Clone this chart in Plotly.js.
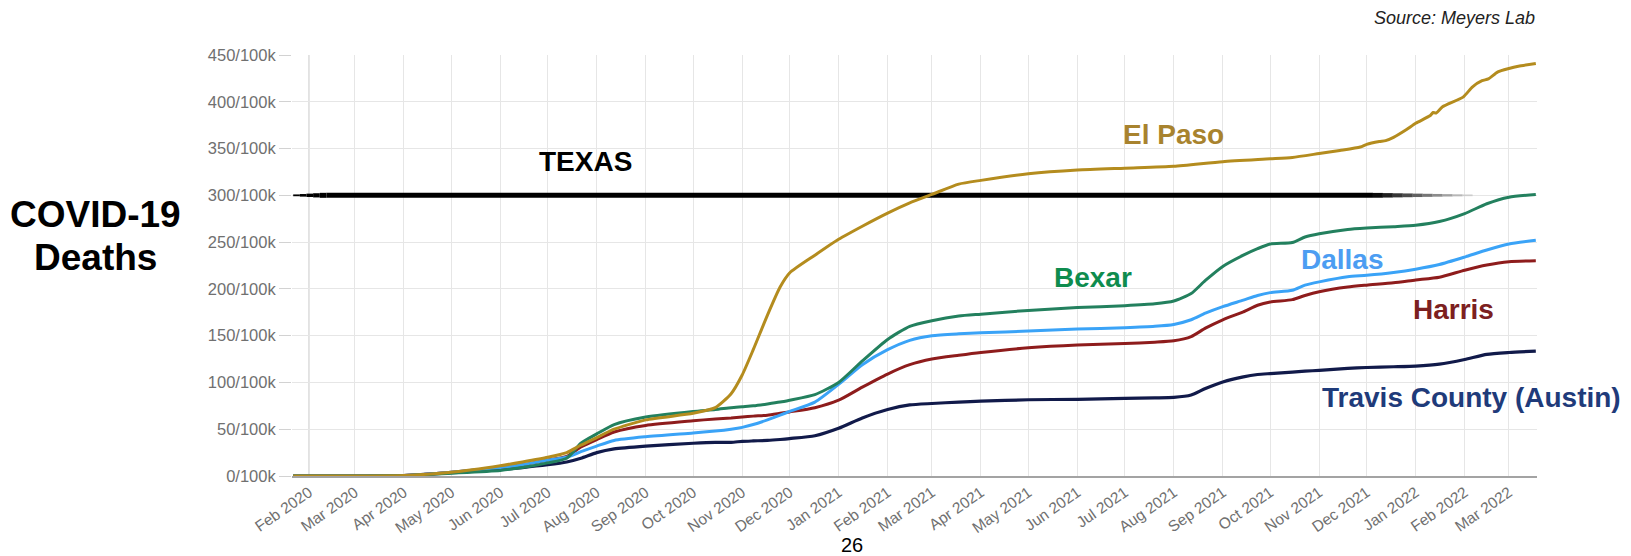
<!DOCTYPE html>
<html>
<head>
<meta charset="utf-8">
<script src="https://cdn.plot.ly/plotly-3.0.1.min.js"></script>
<style>
  html, body { margin: 0; padding: 0; background: #ffffff; }
  #chart { width: 1631px; height: 556px; }
</style>
</head>
<body>
<div id="chart"></div>
<script>
// ---------------- DATA ----------------
const dates = [
  '2020-01-22','2020-03-01','2020-04-01','2020-05-01','2020-06-01','2020-06-15','2020-07-01','2020-07-13',
  '2020-07-22','2020-08-01','2020-08-12','2020-09-01','2020-10-01','2020-10-15','2020-10-25','2020-11-01',
  '2020-11-08','2020-11-17','2020-11-25','2020-12-01','2020-12-17','2021-01-01','2021-01-16','2021-02-01',
  '2021-02-15','2021-03-01','2021-03-18','2021-04-01','2021-05-01','2021-06-01','2021-07-01','2021-07-20',
  '2021-08-01','2021-08-12','2021-08-21','2021-09-01','2021-09-14','2021-09-23','2021-10-01','2021-10-15',
  '2021-10-23','2021-11-01','2021-11-19','2021-12-01','2021-12-18','2022-01-01','2022-01-16','2022-02-01',
  '2022-02-15','2022-03-01','2022-03-18'
];
const bexar = [
  0,0,0.5,3,6,9,14,19,
  35,45,55,63,69,71,73,74,
  75,77,79,81,87,100,123,146,
  160,166,171,173,177,180,182,184,
  187,195,209,224,236,243,248,249.5,
  255.5,259,263.5,265,266.5,268,272,280.5,
  291,298,301
];
const dallas = [
  0,0,0.5,4,9,12,17,20,
  26,32,38,42,46,48,50,52,
  55,60,65,69,79,98,119,135,
  145,150,152,153,155,157,158.5,160,
  162,167,174,181,188,193,196,198.5,
  204,207.5,213,214.5,217.5,221,226,234,
  241.5,248,252
];
const harris = [
  0,0,0.5,4,9,12,17,21,
  31,39,47,54,59,61,62,63,
  64,65,67,68.5,73,81,95,109,
  119,125,129,132,137,140,141.5,143,
  144.5,149,158,167,175.5,182.5,186,188.5,
  193,197,202,204,206.5,209.5,212.5,220,
  225.5,229,230
];
const travis = [
  0,0,0.5,3.5,7,9,12,15,
  19,25,29,32,35,36,36,37,
  37.5,38,39,40,43,51,62,71,
  76,77.5,79,80,81.5,82,83,83.5,
  84,86.5,93.5,100.5,106,108.5,109.5,111,
  112,113,115,116,116.8,117.5,119.5,124.5,
  130,132,133.5
];
const elPasoDates = [
  '2020-01-22','2020-03-01','2020-04-01','2020-05-01','2020-06-01','2020-06-15','2020-07-01','2020-07-13',
  '2020-07-22','2020-08-01','2020-08-12','2020-09-01','2020-10-01','2020-10-15','2020-10-25','2020-11-01',
  '2020-11-08','2020-11-17','2020-11-25','2020-12-01','2020-12-17','2021-01-01','2021-01-16','2021-02-01',
  '2021-02-15','2021-03-01','2021-03-18','2021-04-01','2021-05-01','2021-06-01','2021-07-01','2021-08-01',
  '2021-09-01','2021-10-01','2021-10-15','2021-11-01','2021-11-14','2021-11-27','2021-12-01','2021-12-09',
  '2021-12-13','2021-12-18','2021-12-26','2022-01-01','2022-01-10','2022-01-12','2022-01-14','2022-01-18',
  '2022-01-31','2022-02-06','2022-02-12','2022-02-16','2022-02-22','2022-03-01','2022-03-07','2022-03-18'
];
const elPaso = [
  0,0,0.5,4,11,15,20,25,
  33,41,50,60,67,73,88,108,
  135,172,202,217,236,253,267,281,
  292,301,312,316,323,327,329,331,
  336,339,340.5,344.7,348,351.7,354.5,357.5,
  358.5,362,370,377,385,388.5,388,394.6,
  405,416,422.5,424.5,432,435.6,438,441
];
const texasDates = ['2020-01-22','2020-02-12','2021-12-05','2022-02-06'];
const texasValues = [300, 300, 300, 300];

const monthTickFormat = '%b %Y';
const yTickSuffix = '/100k';

// ---------------- STYLE ----------------
const FONT = 'Liberation Sans, Arial, Helvetica, sans-serif';
const colors = {
  elPaso: '#B48C1E', bexar: '#23805E', dallas: '#3AA3F7', harris: '#8E1C1C', travis: '#111A4A'
};
const labelColors = {
  elPaso: '#A8832E', bexar: '#0E8C4E', dallas: '#4C9DF2', harris: '#7C2020', travis: '#1F3B7A'
};

function lineTrace(x, y, color, width) {
  return {
    type: 'scatter', mode: 'lines', x: x, y: y,
    line: { color: color, width: width, shape: 'spline', smoothing: 0.6 },
    hoverinfo: 'skip', showlegend: false
  };
}

// Texas reference line: tapered in at the left, solid, fading out at the right
function texasTraces() {
  const t = texasDates.map(d => new Date(d + 'T00:00:00Z').getTime());
  const iso = ms => new Date(ms).toISOString().slice(0, 19).replace('T', ' ');
  const out = [];
  const seg = (a, b, ya, yb, color, width) => out.push({
    type: 'scatter', mode: 'lines', x: [iso(a), iso(b)], y: [ya, yb],
    line: { color: color, width: width }, hoverinfo: 'skip', showlegend: false
  });
  const nIn = 5;
  for (let i = 0; i < nIn; i++) {
    const a = t[0] + (t[1] - t[0]) * i / nIn, b = t[0] + (t[1] - t[0]) * (i + 1) / nIn;
    seg(a, b, texasValues[0], texasValues[1], '#000', 1 + 4 * (i + 1) / nIn);
  }
  seg(t[1], t[2], texasValues[1], texasValues[2], '#000', 5);
  const nOut = 10;
  for (let i = 0; i < nOut; i++) {
    const a = t[2] + (t[3] - t[2]) * i / nOut, b = t[2] + (t[3] - t[2]) * (i + 1) / nOut;
    const f = (i + 0.5) / nOut;
    const g = Math.round(215 * f);
    seg(a, b, texasValues[2], texasValues[3], `rgb(${g},${g},${g})`, 5 - 3.5 * f);
  }
  return out;
}

const traces = [
  ...texasTraces(),
  lineTrace(dates, travis, colors.travis, 3.2),
  lineTrace(dates, harris, colors.harris, 3),
  lineTrace(dates, dallas, colors.dallas, 3),
  lineTrace(dates, bexar, colors.bexar, 3),
  lineTrace(elPasoDates, elPaso, colors.elPaso, 3)
];

function label(text, x, y, color, size) {
  return {
    text: '<b>' + text + '</b>', x: x, y: y, xref: 'x', yref: 'y',
    showarrow: false, xanchor: 'center', yanchor: 'middle',
    font: { family: FONT, size: size || 28, color: color }
  };
}

const layout = {
  width: 1631, height: 556,
  margin: { l: 292, r: 94, t: 55, b: 80 },
  paper_bgcolor: '#ffffff', plot_bgcolor: '#ffffff',
  showlegend: false,
  font: { family: FONT },
  xaxis: {
    type: 'date',
    range: ['2020-01-21 06:00', '2022-03-18 18:00'],
    dtick: 'M1', tick0: '2020-02-01',
    tickformat: monthTickFormat,
    tickangle: -35,
    ticks: '',
    tickfont: { family: FONT, size: 15.5, color: '#707070' },
    showgrid: true, gridcolor: '#e6e6e6', gridwidth: 1,
    showline: true, linecolor: '#a3a3a3', linewidth: 1.5,
    zeroline: false, fixedrange: true
  },
  yaxis: {
    range: [0, 450], dtick: 50, tick0: 0,
    ticksuffix: yTickSuffix,
    ticks: 'outside', ticklen: 12, tickcolor: '#d2d2d2', tickwidth: 1,
    tickfont: { family: FONT, size: 16.5, color: '#707070' },
    showgrid: true, gridcolor: '#e6e6e6', gridwidth: 1,
    showline: false, zeroline: false, fixedrange: true
  },
  shapes: [{
    type: 'line', xref: 'x', yref: 'paper', x0: '2020-02-01', x1: '2020-02-01', y0: 0, y1: 1,
    line: { color: '#c4c4c4', width: 1 }, layer: 'below'
  }],
  annotations: [
    label('TEXAS', '2020-07-25', 336.5, '#000000'),
    label('El Paso', '2021-08-01', 365, labelColors.elPaso),
    label('Bexar', '2021-06-11', 212.6, labelColors.bexar),
    label('Dallas', '2021-11-16', 231.8, labelColors.dallas),
    label('Harris', '2022-01-25', 178.4, labelColors.harris),
    label('Travis County (Austin)', '2022-02-05', 84.4, labelColors.travis),
    {
      text: '<b>COVID-19</b>', xref: 'paper', yref: 'paper', x: -0.1582, y: 0.62,
      xanchor: 'center', yanchor: 'middle', showarrow: false,
      font: { family: FONT, size: 37, color: '#000' }
    },
    {
      text: '<b>Deaths</b>', xref: 'paper', yref: 'paper', x: -0.1582, y: 0.52,
      xanchor: 'center', yanchor: 'middle', showarrow: false,
      font: { family: FONT, size: 37, color: '#000' }
    },
    {
      text: '<i>Source: Meyers Lab</i>', xref: 'paper', yref: 'paper', x: 1.0, y: 1.088,
      xanchor: 'right', yanchor: 'middle', showarrow: false,
      font: { family: FONT, size: 18, color: '#222' }
    },
    {
      text: '26', xref: 'paper', yref: 'paper', x: 0.4498, y: -0.164,
      xanchor: 'center', yanchor: 'middle', showarrow: false,
      font: { family: FONT, size: 20, color: '#000' }
    }
  ]
};

Plotly.newPlot('chart', traces, layout, { displayModeBar: false, staticPlot: true });
</script>
</body>
</html>
